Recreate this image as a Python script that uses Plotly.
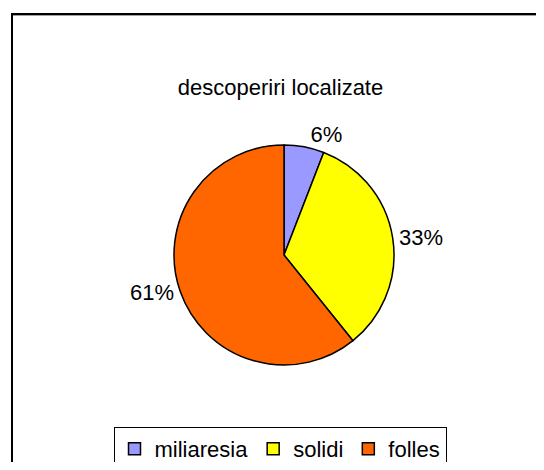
import plotly.graph_objects as go

labels = ["miliaresia", "solidi", "folles"]
values = [3, 17, 31]
colors = ["#9999FF", "#FFFF00", "#FF6600"]
title_text = "descoperiri localizate"

# page has an 8px body margin; figure fills the rest of the 544x470 window
OFF = 8
W, H = 544 - 2 * OFF, 470 - 2 * OFF
cx, cy, r = 284 - OFF, 255 - OFF, 110

FONT = "Arial, Liberation Sans, sans-serif"

fig = go.Figure(go.Pie(
    labels=labels,
    values=values,
    sort=False,
    direction="clockwise",
    rotation=0,
    marker=dict(colors=colors, line=dict(color="black", width=1.5)),
    texttemplate="%{percent:.0%}",
    textposition="outside",
    textfont=dict(family=FONT, size=22, color="black"),
    domain=dict(x=[(cx - r) / W, (cx + r) / W], y=[(H - cy - r) / H, (H - cy + r) / H]),
    hoverinfo="label+percent",
))

fig.update_layout(
    width=W, height=H,
    margin=dict(l=0, r=0, t=0, b=0, autoexpand=False),
    paper_bgcolor="white",
    plot_bgcolor="white",
    font=dict(family=FONT, color="black"),
    title=dict(text=title_text, x=(280.5 - OFF) / W, xanchor="center", y=1 - (87 - OFF) / H,
               yanchor="middle", yref="container", font=dict(size=22, color="black")),
    showlegend=True,
    legend=dict(orientation="h", x=(280 - OFF) / W, xanchor="center", y=1 - (427 - OFF) / H,
                xref="container", yref="container",
                yanchor="top", bordercolor="black", borderwidth=1, bgcolor="white",
                font=dict(size=22, color="black"), itemwidth=30,
                traceorder="normal"),
    shapes=[
        dict(type="line", xref="paper", yref="paper", x0=(11 - OFF) / W, x1=1.05,
             y0=1 - (15.5 - OFF) / H, y1=1 - (15.5 - OFF) / H,
             line=dict(color="#A0A0A0", width=1)),
        dict(type="line", xref="paper", yref="paper", x0=(11 - OFF) / W, x1=1.05,
             y0=1 - (14 - OFF) / H, y1=1 - (14 - OFF) / H,
             line=dict(color="black", width=2)),
        dict(type="line", xref="paper", yref="paper", x0=(12 - OFF) / W, x1=(12 - OFF) / W,
             y0=-0.05, y1=1 - (13 - OFF) / H,
             line=dict(color="black", width=2)),
    ],
)

fig.write_html("out.html")
